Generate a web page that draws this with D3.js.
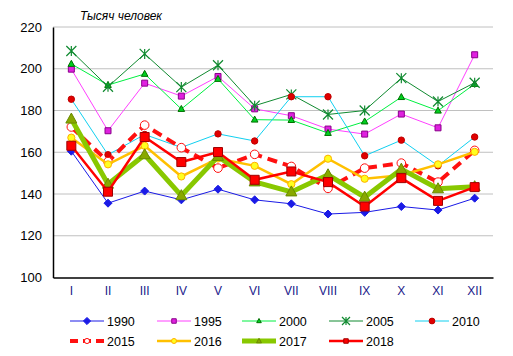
<!DOCTYPE html>
<html><head><meta charset="utf-8">
<script src="https://cdn.jsdelivr.net/npm/d3@7"></script>
<style>
html,body{margin:0;padding:0;background:#fff;}
svg{display:block;font-family:"Liberation Sans",Arial,sans-serif;}
</style></head>
<body><svg id="c" width="513" height="356"></svg>
<script>
const months = ["I","II","III","IV","V","VI","VII","VIII","IX","X","XI","XII"];
const yTicks = [100,120,140,160,180,200,220];
const unitLabel = "Тысяч человек";
const seriesNames = ["1990","1995","2000","2005","2010","2015","2016","2017","2018"];
const v1990 = [160.5,135.6,141.4,137.2,142.3,137.2,135.3,130.4,131.2,134.0,132.3,138.0];
const v1995 = [199.8,170.3,193.1,186.9,196.3,180.8,177.5,171.1,168.7,178.3,171.7,206.7];
const v2000 = [202.3,192.2,197.5,180.7,195.1,175.6,175.4,169.2,174.7,186.4,179.9,192.7];
const v2005 = [208.5,191.4,207.1,191.2,201.7,182.3,187.7,178.1,180.0,195.5,184.3,193.3];
const v2010 = [185.4,158.8,168.5,162.3,168.8,165.4,186.6,186.6,158.3,165.8,153.5,167.3];
const v2015 = [172.1,155.5,173.0,162.2,152.4,159.0,153.2,142.7,152.4,154.8,145.7,160.9];
const v2016 = [167.0,154.2,163.1,148.4,157.0,153.5,144.7,156.9,147.3,149.0,154.2,160.2];
const v2017 = [175.9,144.7,158.8,139.2,158.0,145.8,141.0,149.2,138.5,151.9,142.5,143.5];
const v2018 = [163.1,141.1,167.3,155.3,160.1,146.8,150.8,145.7,134.0,147.6,136.7,143.3];
const allValues = [v1990,v1995,v2000,v2005,v2010,v2015,v2016,v2017,v2018];

const styles = {
  "1990":{line:"#1a1ae6",w:1,marker:"diamond",ms:4,fill:"#1a1ae6",stroke:"#1a1ae6"},
  "1995":{line:"#ff40ff",w:1,marker:"square",ms:6,fill:"#e020e0",stroke:"#8a008a"},
  "2000":{line:"#00f040",w:1,marker:"triangle",ms:6,fill:"#00d020",stroke:"#007000"},
  "2005":{line:"#108a30",w:1,marker:"star",ms:5,fill:"none",stroke:"#108a30"},
  "2010":{line:"#10d0f0",w:1,marker:"circle",ms:3.2,fill:"#e00000",stroke:"#c00000"},
  "2015":{line:"#ff1010",w:4,dash:"10,6",marker:"circle",ms:4.3,fill:"#ffffff",stroke:"#ff1010",mw:1},
  "2016":{line:"#ffc000",w:2.5,marker:"circle",ms:3.6,fill:"#ffff20",stroke:"#ffb000",mw:1},
  "2017":{line:"#88c800",w:5,marker:"triangle",ms:10,fill:"#88a800",stroke:"#6a8a00"},
  "2018":{line:"#ff0000",w:2.5,marker:"square",ms:9,fill:"#ff0000",stroke:"#a00000"}
};

const svg = d3.select("#c");
const x = d3.scaleBand().domain(months).range([53,493]).padding(0);
const y = d3.scaleLinear().domain([100,220]).range([277.5,27]);
const cx = m => x(m) + x.bandwidth()/2;

// grid
svg.append("g").selectAll("line").data(yTicks.filter(t=>t>100)).join("line")
  .attr("x1",53).attr("x2",493).attr("y1",d=>y(d)).attr("y2",d=>y(d))
  .attr("stroke","#c0c0c0").attr("stroke-width",1);

// axes
const yAxis = d3.axisLeft(y).tickValues(yTicks).tickSize(0).tickPadding(11);
const gy = svg.append("g").attr("transform","translate(53,0)").call(yAxis);
gy.select(".domain").attr("stroke","#000").attr("stroke-width",1.5);
gy.selectAll("text").attr("font-size",13).attr("fill","#000");
const xAxis = d3.axisBottom(x).tickSize(0).tickPadding(9);
const gx = svg.append("g").attr("transform","translate(0,277.5)").call(xAxis);
gx.select(".domain").attr("stroke","#000").attr("stroke-width",1.5);
gx.selectAll("text").attr("font-size",12).attr("fill","#1a1a8a");
gx.selectAll(".tick text").attr("dx",0);

svg.append("text").attr("x",80).attr("y",20).attr("font-style","italic")
  .attr("font-size",12).attr("fill","#000").text(unitLabel);

function markerPath(type, s){
  if(type==="square") return `M${-s/2},${-s/2}h${s}v${s}h${-s}z`;
  if(type==="diamond") return `M0,${-s}L${s},0L0,${s}L${-s},0z`;
  if(type==="triangle") return `M0,${-s*0.6}L${s*0.55},${s*0.4}L${-s*0.55},${s*0.4}z`;
  if(type==="circle") return `M${s},0A${s},${s} 0 1,1 ${-s},0A${s},${s} 0 1,1 ${s},0z`;
  if(type==="star") return `M${-s},${-s}L${s},${s}M${-s},${s}L${s},${-s}M0,${-s}L0,${s}`;
}

function drawMarker(g, name, px, py, scale){
  const st = styles[name];
  const s = st.ms*(scale||1);
  g.append("path").attr("d",markerPath(st.marker,s))
    .attr("transform",`translate(${px},${py})`)
    .attr("fill",st.fill).attr("stroke",st.stroke)
    .attr("stroke-width",st.marker==="star"?1.2:(st.mw||1));
}

const line = d3.line().x((d,i)=>cx(months[i])).y(d=>y(d));
seriesNames.forEach((name,k)=>{
  const st = styles[name];
  const vals = allValues[k];
  const g = svg.append("g");
  g.append("path").attr("d",line(vals)).attr("fill","none")
    .attr("stroke",st.line).attr("stroke-width",st.w)
    .attr("stroke-dasharray",st.dash||null).attr("stroke-linejoin","miter");
  vals.forEach((v,i)=>drawMarker(g,name,cx(months[i]),y(v)));
});

// legend
const legX = [70,157,242,329,415];
const legY = [321,341];
seriesNames.forEach((name,k)=>{
  const st = styles[name];
  const lx = legX[k%5], ly = legY[Math.floor(k/5)];
  const g = svg.append("g");
  g.append("line").attr("x1",lx).attr("x2",lx+34).attr("y1",ly).attr("y2",ly)
    .attr("stroke",st.line).attr("stroke-width",st.w)
    .attr("stroke-dasharray",st.dash?"8,5":null);
  const sc = {"2018":0.5,"2017":0.45,"2015":0.6,"2016":0.7,"1995":0.75,"2000":0.7,"2005":0.8,"1990":0.9,"2010":0.9}[name];
  drawMarker(g,name,lx+17,ly,sc);
  g.append("text").attr("x",lx+37).attr("y",ly+4.5).attr("font-size",12.5)
    .attr("fill","#000").text(name);
});
</script></body></html>
